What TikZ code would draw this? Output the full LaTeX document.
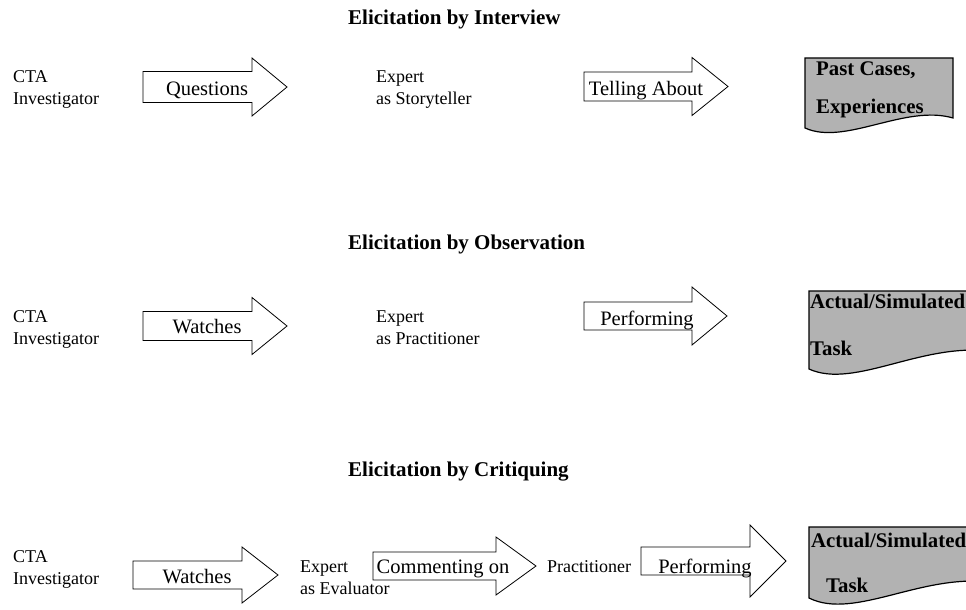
\documentclass[tikz,border=0pt]{standalone}
\usepackage{fontspec}
\setmainfont{Liberation Serif}
\tikzset{
  fat/.style={draw=black, line width=0.8pt, fill=white, line join=miter},
  docbox/.style={draw=black, line width=1.2pt, fill=black!30},
  actor/.style={font=\fontsize{18}{22.5}\selectfont, align=left, anchor=base west, inner sep=0pt},
  verb/.style={font=\fontsize{20.5}{24}\selectfont, anchor=base, inner sep=0pt},
  heading/.style={font=\bfseries\fontsize{21}{25}\selectfont, anchor=base west, inner sep=0pt},
  doctext/.style={font=\bfseries\fontsize{20.8}{26}\selectfont, anchor=base west, inner sep=0pt}
}
% block arrow: left x, mid y, shaft half height, head base x, head half height, tip x
\newcommand{\fatarrow}[6]{%
  \draw[fat] (#1,#2-#3) -- (#4,#2-#3) -- (#4,#2-#5) -- (#6,#2) -- (#4,#2+#5) -- (#4,#2+#3) -- (#1,#2+#3) -- cycle;}
\begin{document}
\begin{tikzpicture}[x=1pt,y=-1pt]
\path[use as bounding box, clip] (0,0) rectangle (966,610);

% interview
\node[heading] (t1) at (348,25) {Elicitation by Interview};
\node[actor] (cta1) at (13,104.5) {CTA\\Investigator};
\fatarrow{143}{87}{15.5}{252}{29}{287}
\node[verb] (v1) at (207,95) {Questions};
\node[actor] (exp1) at (376,104.5) {Expert\\as Storyteller};
\fatarrow{584}{86.5}{14.5}{692}{29}{728}
\node[verb] (v2) at (646,95) {Telling About};
\draw[docbox] (805,58) -- (953,58) -- (953,118) .. controls (905,104) and (845,146) .. (805,128) -- cycle;
\node[doctext] (d1a) at (816,75) {Past Cases,};
\node[doctext] (d1b) at (816,113) {Experiences};

% observation
\node[heading] (t2) at (348,249) {Elicitation by Observation};
\node[actor] (cta2) at (13,344.5) {CTA\\Investigator};
\fatarrow{143}{326}{14.5}{252}{28.5}{287}
\node[verb] (v3) at (207,333) {Watches};
\node[actor] (exp2) at (376,344.5) {Expert\\as Practitioner};
\fatarrow{584}{316}{14}{692}{29}{727}
\node[verb] (v4) at (647,325) {Performing};
\draw[docbox] (809,291) -- (995,291) -- (995,352) .. controls (925,340) and (855,390) .. (809,369) -- cycle;
\node[doctext] (d2a) at (810,308) {Actual/Simulated};
\node[doctext] (d2b) at (810,355) {Task};

% critiquing
\node[heading] (t3) at (348,476) {Elicitation by Critiquing};
\node[actor] (cta3) at (13,584.5) {CTA\\Investigator};
\fatarrow{133}{575}{14}{242}{28}{278}
\node[verb] (v5) at (197,583) {Watches};
\node[actor] (exp3) at (300,594.5) {Expert\\as Evaluator};
\fatarrow{373}{566}{14}{496}{29}{536}
\node[verb] (v6) at (443,573) {Commenting on};
\node[actor] (prac) at (547,572) {Practitioner};
\fatarrow{641}{561}{14}{750}{36}{786}
\node[verb] (v7) at (705,573) {Performing};
\draw[docbox] (809,527) -- (995,527) -- (995,583) .. controls (925,571) and (855,621) .. (809,598) -- cycle;
\node[doctext] (d3a) at (811,547) {Actual/Simulated};
\node[doctext] (d3b) at (826,592) {Task};
\end{tikzpicture}
\end{document}
